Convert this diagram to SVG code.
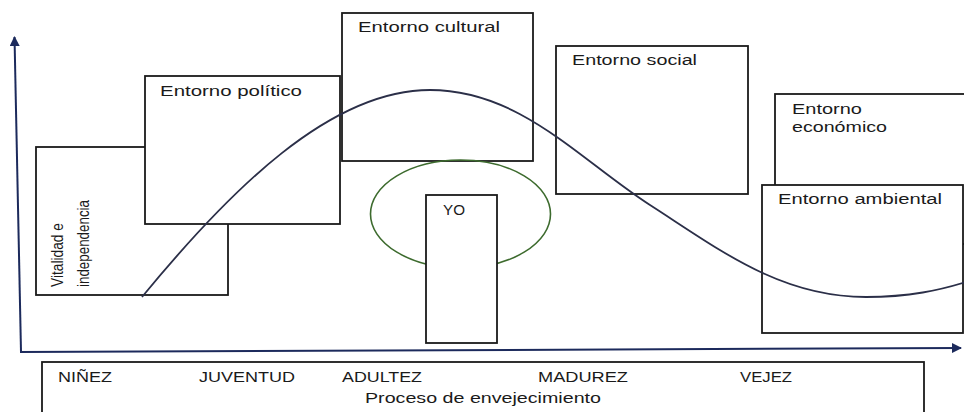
<svg xmlns="http://www.w3.org/2000/svg" width="964" height="412" viewBox="0 0 964 412">
<style>
.box{fill:#fff;stroke:#1a1a1a;stroke-width:1.8}
.t{font-family:"Liberation Sans",Arial,sans-serif;font-size:14px;fill:#1a1a1a}
.v{font-family:"Liberation Sans",Arial,sans-serif;font-size:16.5px;fill:#1a1a1a}
.axis{stroke:#1c2a5c;stroke-width:2;fill:none}
</style>
<defs>
<marker id="ah" viewBox="0 0 10 10" refX="9" refY="5" markerWidth="5" markerHeight="5" orient="auto" markerUnits="strokeWidth">
<path d="M0,0 L10,5 L0,10 z" fill="#1c2a5c"/>
</marker>
</defs>
<rect width="964" height="412" fill="#fff"/>
<g id="connectors">
<path class="axis" d="M21,352 L14.5,37" marker-end="url(#ah)"/>
<path class="axis" d="M20,352 L961,348" marker-end="url(#ah)"/>
</g>
<g id="proceso">
<rect class="box" x="42" y="362" width="882" height="60"/>
<text class="t" x="58" y="382" textLength="54" lengthAdjust="spacingAndGlyphs">NIÑEZ</text>
<text class="t" x="199" y="382" textLength="96" lengthAdjust="spacingAndGlyphs">JUVENTUD</text>
<text class="t" x="342" y="382" textLength="80" lengthAdjust="spacingAndGlyphs">ADULTEZ</text>
<text class="t" x="538" y="382" textLength="90" lengthAdjust="spacingAndGlyphs">MADUREZ</text>
<text class="t" x="740" y="382" textLength="52" lengthAdjust="spacingAndGlyphs">VEJEZ</text>
<text class="t" x="365" y="403" textLength="236" lengthAdjust="spacingAndGlyphs">Proceso de envejecimiento</text>
</g>
<g id="vitalidad">
<rect class="box" x="36" y="147" width="192" height="148"/>
<text class="v" transform="translate(63,287) rotate(-90)" textLength="64" lengthAdjust="spacingAndGlyphs">Vitalidad e</text>
<text class="v" transform="translate(89,287) rotate(-90)" textLength="87" lengthAdjust="spacingAndGlyphs">independencia</text>
</g>
<g id="politico">
<rect class="box" x="145" y="76" width="195" height="148"/>
<text class="t" x="160" y="96" textLength="142" lengthAdjust="spacingAndGlyphs">Entorno político</text>
</g>
<g id="cultural">
<rect class="box" x="342" y="13" width="191" height="148"/>
<text class="t" x="358" y="32" textLength="142" lengthAdjust="spacingAndGlyphs">Entorno cultural</text>
</g>
<g id="yo">
<ellipse cx="460.5" cy="214" rx="90" ry="54" fill="none" stroke="#3d6b2e" stroke-width="1.6"/>
<rect class="box" x="426" y="195" width="71" height="148"/>
<text class="t" x="443" y="215" textLength="22" lengthAdjust="spacingAndGlyphs">YO</text>
</g>
<g id="social">
<rect class="box" x="556" y="46" width="192" height="148"/>
<text class="t" x="572" y="65" textLength="125" lengthAdjust="spacingAndGlyphs">Entorno social</text>
</g>
<g id="economico">
<rect class="box" x="775" y="94" width="200" height="150"/>
<text class="t" x="792" y="114" textLength="70" lengthAdjust="spacingAndGlyphs">Entorno</text>
<text class="t" x="792" y="132" textLength="95" lengthAdjust="spacingAndGlyphs">económico</text>
</g>
<g id="ambiental">
<rect class="box" x="762" y="185" width="201" height="148"/>
<text class="t" x="778" y="204" textLength="164" lengthAdjust="spacingAndGlyphs">Entorno ambiental</text>
</g>
<g id="curva">
<path d="M142,297 C230,190 330,90 430,90 C520,90 580,160 650,205 C720,250 780,297 866,297 C910,297 940,290 966,282" fill="none" stroke="#2b2f48" stroke-width="1.8"/>
</g>
</svg>
